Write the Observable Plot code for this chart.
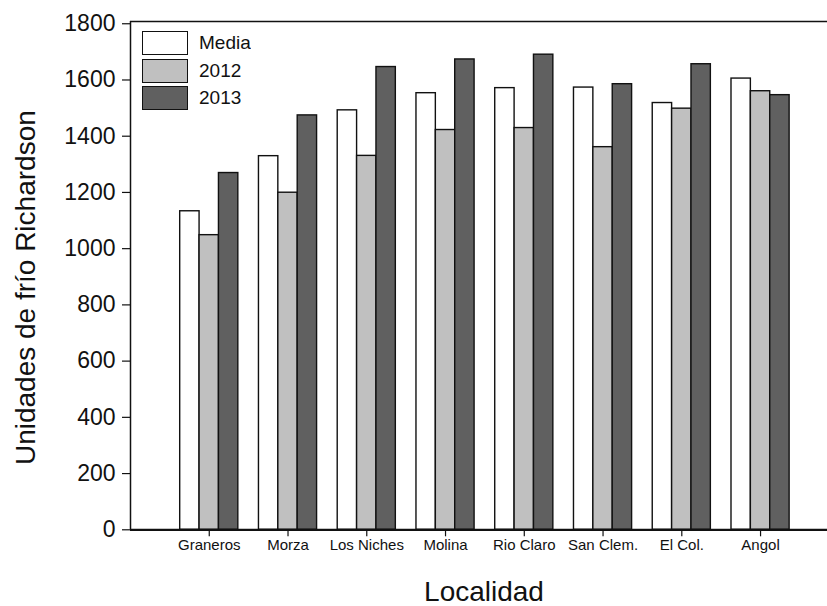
<!DOCTYPE html>
<html>
<head>
<meta charset="utf-8">
<script src="https://cdn.jsdelivr.net/npm/d3@7"></script>
<script src="https://cdn.jsdelivr.net/npm/@observablehq/plot@0.6"></script>
<style>
  html, body { margin: 0; padding: 0; background: #fff; }
  #chart { position: relative; width: 827px; height: 606px; }
  #chart svg.main { display: block; }
  #legend { position: absolute; left: 142px; top: 31px; }
  #legend .leg-swatches { font-family: "Liberation Sans", Arial, sans-serif !important; font-size: 19px !important; color: #111; }
  #legend .leg-swatch { display: flex; align-items: center; margin: 0 0 3.7px 0 !important; padding: 0 !important; }
  #legend .leg-swatch svg { box-sizing: border-box; border: 1.4px solid #111; margin-right: 11px !important; }
</style>
</head>
<body>
<div id="chart"><div id="legend"></div></div>
<script>
// Chill accumulation (Richardson units) per locality: long-term mean and two seasons
const locations = ["Graneros", "Morza", "Los Niches", "Molina", "Rio Claro", "San Clem.", "El Col.", "Angol"];
const series = ["Media", "2012", "2013"];
const media = [1133, 1329, 1492, 1553, 1571, 1573, 1518, 1605];
const v2012 = [1048, 1199, 1330, 1422, 1429, 1361, 1498, 1560];
const v2013 = [1269, 1474, 1646, 1673, 1690, 1585, 1656, 1546];
const yTicks = [0, 200, 400, 600, 800, 1000, 1200, 1400, 1600, 1800];
const fills = ["#ffffff", "#c0c0c0", "#606060"];

const yMax = 1808;
const barW = 0.246; // width of one bar, in locality steps

const columns = [media, v2012, v2013];
const rows = locations.flatMap((loc, i) =>
  series.map((s, k) => ({loc, pos: i + 1, k, series: s, value: columns[k][i]}))
);

const font = "'Liberation Sans', Arial, sans-serif";

const chart = Plot.plot({
  width: 827,
  height: 606,
  marginLeft: 130,
  marginRight: 0,
  marginTop: 21,
  marginBottom: 76.7,
  style: {fontFamily: font, color: "#111", background: "#fff"},
  x: {domain: [0, 8.85], axis: null},
  y: {domain: [0, yMax], axis: null},
  color: {domain: series, range: fills},
  marks: [
    Plot.rect(rows, {
      x1: d => d.pos + (d.k - 1.5) * barW,
      x2: d => d.pos + (d.k - 0.5) * barW,
      y1: 0,
      y2: "value",
      fill: "series",
      stroke: "#111",
      strokeWidth: 1.4
    }),
    Plot.axisY({ticks: yTicks, tickFormat: d => String(d), tickSize: 8, tickPadding: 7,
      fontSize: 23, label: null, strokeWidth: 1.2}),
    Plot.axisX({ticks: locations.map((_, i) => i + 1), tickFormat: i => locations[i - 1],
      tickSize: 7, tickPadding: 3, fontSize: 15, label: null, strokeWidth: 1.2}),
    Plot.ruleY([0], {stroke: "#111", strokeWidth: 2.2}),
    Plot.ruleY([yMax], {stroke: "#111", strokeWidth: 1.5}),
    Plot.ruleX([0], {y1: 0, y2: yMax, stroke: "#111", strokeWidth: 1.5}),
    Plot.text(["Unidades de frío Richardson"], {
      frameAnchor: "left", textAnchor: "middle", rotate: -90, dx: -104, dy: 12, fontSize: 28, fill: "#111"
    }),
    Plot.text(["Localidad"], {
      frameAnchor: "bottom", lineAnchor: "bottom", dx: 5, dy: 71, fontSize: 28, fill: "#111"
    })
  ]
});
chart.classList.add("main");
document.getElementById("chart").prepend(chart);

const legend = Plot.legend({
  color: {domain: series, range: fills},
  legend: "swatches",
  columns: 1,
  swatchWidth: 46,
  swatchHeight: 24,
  className: "leg"
});
document.getElementById("legend").append(legend);
</script>
</body>
</html>
